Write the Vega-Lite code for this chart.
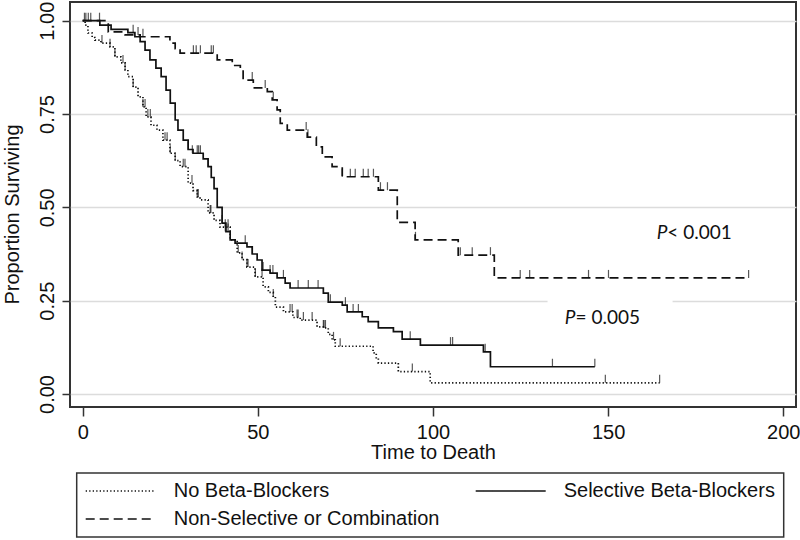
{
  "$schema": "https://vega.github.io/schema/vega-lite/v6.json",
  "width": 726,
  "height": 405,
  "autosize": {"type": "none"},
  "padding": {"left": 70, "top": 2, "right": 4, "bottom": 133},
  "background": "white",
  "config": {
    "font": "Liberation Sans",
    "view": {"stroke": "#333", "strokeWidth": 2},
    "legend": {"strokeWidth": 1.5}
  },
  "datasets": {
    "curves": [
      {"group": "Selective Beta-Blockers", "t": 0, "s": 1},
      {"group": "Selective Beta-Blockers", "t": 4.9, "s": 0.988},
      {"group": "Selective Beta-Blockers", "t": 8.1, "s": 0.977},
      {"group": "Selective Beta-Blockers", "t": 12.9, "s": 0.968},
      {"group": "Selective Beta-Blockers", "t": 14.9, "s": 0.957},
      {"group": "Selective Beta-Blockers", "t": 16.4, "s": 0.944},
      {"group": "Selective Beta-Blockers", "t": 17.8, "s": 0.921},
      {"group": "Selective Beta-Blockers", "t": 19.2, "s": 0.895},
      {"group": "Selective Beta-Blockers", "t": 20.9, "s": 0.873},
      {"group": "Selective Beta-Blockers", "t": 22.4, "s": 0.85},
      {"group": "Selective Beta-Blockers", "t": 23.8, "s": 0.814},
      {"group": "Selective Beta-Blockers", "t": 25.0, "s": 0.779},
      {"group": "Selective Beta-Blockers", "t": 26.4, "s": 0.734},
      {"group": "Selective Beta-Blockers", "t": 27.2, "s": 0.707},
      {"group": "Selective Beta-Blockers", "t": 28.7, "s": 0.68},
      {"group": "Selective Beta-Blockers", "t": 30.1, "s": 0.655},
      {"group": "Selective Beta-Blockers", "t": 31.5, "s": 0.645},
      {"group": "Selective Beta-Blockers", "t": 34.4, "s": 0.63},
      {"group": "Selective Beta-Blockers", "t": 35.8, "s": 0.609},
      {"group": "Selective Beta-Blockers", "t": 36.7, "s": 0.58},
      {"group": "Selective Beta-Blockers", "t": 37.5, "s": 0.55},
      {"group": "Selective Beta-Blockers", "t": 38.4, "s": 0.5},
      {"group": "Selective Beta-Blockers", "t": 39.8, "s": 0.458},
      {"group": "Selective Beta-Blockers", "t": 40.9, "s": 0.435},
      {"group": "Selective Beta-Blockers", "t": 42.1, "s": 0.413},
      {"group": "Selective Beta-Blockers", "t": 43.5, "s": 0.404},
      {"group": "Selective Beta-Blockers", "t": 46.9, "s": 0.394},
      {"group": "Selective Beta-Blockers", "t": 48.4, "s": 0.375},
      {"group": "Selective Beta-Blockers", "t": 49.8, "s": 0.359},
      {"group": "Selective Beta-Blockers", "t": 51.2, "s": 0.332},
      {"group": "Selective Beta-Blockers", "t": 53.5, "s": 0.324},
      {"group": "Selective Beta-Blockers", "t": 55.5, "s": 0.311},
      {"group": "Selective Beta-Blockers", "t": 57.8, "s": 0.297},
      {"group": "Selective Beta-Blockers", "t": 59.2, "s": 0.284},
      {"group": "Selective Beta-Blockers", "t": 68.7, "s": 0.27},
      {"group": "Selective Beta-Blockers", "t": 70.1, "s": 0.246},
      {"group": "Selective Beta-Blockers", "t": 74.1, "s": 0.238},
      {"group": "Selective Beta-Blockers", "t": 75.5, "s": 0.22},
      {"group": "Selective Beta-Blockers", "t": 79.8, "s": 0.207},
      {"group": "Selective Beta-Blockers", "t": 81.5, "s": 0.194},
      {"group": "Selective Beta-Blockers", "t": 84.4, "s": 0.177},
      {"group": "Selective Beta-Blockers", "t": 88.7, "s": 0.167},
      {"group": "Selective Beta-Blockers", "t": 91.2, "s": 0.147},
      {"group": "Selective Beta-Blockers", "t": 96.4, "s": 0.131},
      {"group": "Selective Beta-Blockers", "t": 114.4, "s": 0.113},
      {"group": "Selective Beta-Blockers", "t": 116.4, "s": 0.073},
      {"group": "Selective Beta-Blockers", "t": 146.2, "s": 0.073},
      {"group": "No Beta-Blockers", "t": 0, "s": 1},
      {"group": "No Beta-Blockers", "t": 0.7, "s": 0.988},
      {"group": "No Beta-Blockers", "t": 1.5, "s": 0.967},
      {"group": "No Beta-Blockers", "t": 2.7, "s": 0.955},
      {"group": "No Beta-Blockers", "t": 3.5, "s": 0.948},
      {"group": "No Beta-Blockers", "t": 5.2, "s": 0.94},
      {"group": "No Beta-Blockers", "t": 7.8, "s": 0.93},
      {"group": "No Beta-Blockers", "t": 9.2, "s": 0.903},
      {"group": "No Beta-Blockers", "t": 10.9, "s": 0.887},
      {"group": "No Beta-Blockers", "t": 12.1, "s": 0.868},
      {"group": "No Beta-Blockers", "t": 12.9, "s": 0.85},
      {"group": "No Beta-Blockers", "t": 14.4, "s": 0.822},
      {"group": "No Beta-Blockers", "t": 15.8, "s": 0.796},
      {"group": "No Beta-Blockers", "t": 17.2, "s": 0.769},
      {"group": "No Beta-Blockers", "t": 18.1, "s": 0.742},
      {"group": "No Beta-Blockers", "t": 19.5, "s": 0.72},
      {"group": "No Beta-Blockers", "t": 21.2, "s": 0.707},
      {"group": "No Beta-Blockers", "t": 22.9, "s": 0.68},
      {"group": "No Beta-Blockers", "t": 24.9, "s": 0.645},
      {"group": "No Beta-Blockers", "t": 26.4, "s": 0.625},
      {"group": "No Beta-Blockers", "t": 27.8, "s": 0.609},
      {"group": "No Beta-Blockers", "t": 30.1, "s": 0.565},
      {"group": "No Beta-Blockers", "t": 31.5, "s": 0.545},
      {"group": "No Beta-Blockers", "t": 32.7, "s": 0.528},
      {"group": "No Beta-Blockers", "t": 33.5, "s": 0.52},
      {"group": "No Beta-Blockers", "t": 35.8, "s": 0.485},
      {"group": "No Beta-Blockers", "t": 37.5, "s": 0.465},
      {"group": "No Beta-Blockers", "t": 39.2, "s": 0.447},
      {"group": "No Beta-Blockers", "t": 42.1, "s": 0.413},
      {"group": "No Beta-Blockers", "t": 44.1, "s": 0.378},
      {"group": "No Beta-Blockers", "t": 45.5, "s": 0.36},
      {"group": "No Beta-Blockers", "t": 46.9, "s": 0.34},
      {"group": "No Beta-Blockers", "t": 49.2, "s": 0.314},
      {"group": "No Beta-Blockers", "t": 51.5, "s": 0.287},
      {"group": "No Beta-Blockers", "t": 53.0, "s": 0.272},
      {"group": "No Beta-Blockers", "t": 54.4, "s": 0.26},
      {"group": "No Beta-Blockers", "t": 55.0, "s": 0.233},
      {"group": "No Beta-Blockers", "t": 57.3, "s": 0.22},
      {"group": "No Beta-Blockers", "t": 60.0, "s": 0.205},
      {"group": "No Beta-Blockers", "t": 62.1, "s": 0.198},
      {"group": "No Beta-Blockers", "t": 66.9, "s": 0.18},
      {"group": "No Beta-Blockers", "t": 68.7, "s": 0.177},
      {"group": "No Beta-Blockers", "t": 70.1, "s": 0.16},
      {"group": "No Beta-Blockers", "t": 71.2, "s": 0.145},
      {"group": "No Beta-Blockers", "t": 72.1, "s": 0.128},
      {"group": "No Beta-Blockers", "t": 82.9, "s": 0.11},
      {"group": "No Beta-Blockers", "t": 83.8, "s": 0.095},
      {"group": "No Beta-Blockers", "t": 84.4, "s": 0.083},
      {"group": "No Beta-Blockers", "t": 90.1, "s": 0.06},
      {"group": "No Beta-Blockers", "t": 99.2, "s": 0.03},
      {"group": "No Beta-Blockers", "t": 164.7, "s": 0.03},
      {"group": "Non-Selective or Combination", "t": 0, "s": 1},
      {"group": "Non-Selective or Combination", "t": 7.3, "s": 0.97},
      {"group": "Non-Selective or Combination", "t": 12.1, "s": 0.962},
      {"group": "Non-Selective or Combination", "t": 16.4, "s": 0.957},
      {"group": "Non-Selective or Combination", "t": 24.9, "s": 0.94},
      {"group": "Non-Selective or Combination", "t": 26.4, "s": 0.925},
      {"group": "Non-Selective or Combination", "t": 27.8, "s": 0.913},
      {"group": "Non-Selective or Combination", "t": 38.4, "s": 0.895},
      {"group": "Non-Selective or Combination", "t": 42.7, "s": 0.88},
      {"group": "Non-Selective or Combination", "t": 45.0, "s": 0.872},
      {"group": "Non-Selective or Combination", "t": 45.8, "s": 0.841},
      {"group": "Non-Selective or Combination", "t": 48.7, "s": 0.82},
      {"group": "Non-Selective or Combination", "t": 52.7, "s": 0.81},
      {"group": "Non-Selective or Combination", "t": 54.1, "s": 0.788},
      {"group": "Non-Selective or Combination", "t": 55.5, "s": 0.761},
      {"group": "Non-Selective or Combination", "t": 56.4, "s": 0.725},
      {"group": "Non-Selective or Combination", "t": 58.4, "s": 0.707},
      {"group": "Non-Selective or Combination", "t": 64.1, "s": 0.688},
      {"group": "Non-Selective or Combination", "t": 66.7, "s": 0.662},
      {"group": "Non-Selective or Combination", "t": 68.4, "s": 0.635},
      {"group": "Non-Selective or Combination", "t": 71.2, "s": 0.609},
      {"group": "Non-Selective or Combination", "t": 74.1, "s": 0.582},
      {"group": "Non-Selective or Combination", "t": 84.4, "s": 0.546},
      {"group": "Non-Selective or Combination", "t": 89.8, "s": 0.46},
      {"group": "Non-Selective or Combination", "t": 94.9, "s": 0.413},
      {"group": "Non-Selective or Combination", "t": 107.2, "s": 0.372},
      {"group": "Non-Selective or Combination", "t": 117.5, "s": 0.311},
      {"group": "Non-Selective or Combination", "t": 190.1, "s": 0.311}
    ],
    "censor": [
      {"group": "Selective Beta-Blockers", "t": 0.9, "s": 1},
      {"group": "Selective Beta-Blockers", "t": 1.6, "s": 1},
      {"group": "Selective Beta-Blockers", "t": 2.3, "s": 1},
      {"group": "Selective Beta-Blockers", "t": 4.8, "s": 1},
      {"group": "Selective Beta-Blockers", "t": 14.4, "s": 0.968},
      {"group": "Selective Beta-Blockers", "t": 30.1, "s": 0.655},
      {"group": "Selective Beta-Blockers", "t": 31.3, "s": 0.645},
      {"group": "Selective Beta-Blockers", "t": 32.7, "s": 0.645},
      {"group": "Selective Beta-Blockers", "t": 33.1, "s": 0.645},
      {"group": "Selective Beta-Blockers", "t": 33.6, "s": 0.645},
      {"group": "Selective Beta-Blockers", "t": 35.8, "s": 0.609},
      {"group": "Selective Beta-Blockers", "t": 39.8, "s": 0.458},
      {"group": "Selective Beta-Blockers", "t": 40.7, "s": 0.435},
      {"group": "Selective Beta-Blockers", "t": 41.5, "s": 0.435},
      {"group": "Selective Beta-Blockers", "t": 46.4, "s": 0.404},
      {"group": "Selective Beta-Blockers", "t": 48.4, "s": 0.375},
      {"group": "Selective Beta-Blockers", "t": 51.5, "s": 0.332},
      {"group": "Selective Beta-Blockers", "t": 53.5, "s": 0.324},
      {"group": "Selective Beta-Blockers", "t": 54.3, "s": 0.324},
      {"group": "Selective Beta-Blockers", "t": 57.3, "s": 0.311},
      {"group": "Selective Beta-Blockers", "t": 61.5, "s": 0.284},
      {"group": "Selective Beta-Blockers", "t": 64.4, "s": 0.284},
      {"group": "Selective Beta-Blockers", "t": 67.2, "s": 0.284},
      {"group": "Selective Beta-Blockers", "t": 70.7, "s": 0.246},
      {"group": "Selective Beta-Blockers", "t": 75.0, "s": 0.238},
      {"group": "Selective Beta-Blockers", "t": 77.2, "s": 0.22},
      {"group": "Selective Beta-Blockers", "t": 78.7, "s": 0.22},
      {"group": "Selective Beta-Blockers", "t": 93.5, "s": 0.147},
      {"group": "Selective Beta-Blockers", "t": 105.0, "s": 0.131},
      {"group": "Selective Beta-Blockers", "t": 105.6, "s": 0.131},
      {"group": "Selective Beta-Blockers", "t": 114.9, "s": 0.113},
      {"group": "Selective Beta-Blockers", "t": 134.1, "s": 0.073},
      {"group": "Selective Beta-Blockers", "t": 146.2, "s": 0.073},
      {"group": "No Beta-Blockers", "t": 5.5, "s": 0.94},
      {"group": "No Beta-Blockers", "t": 7.8, "s": 0.93},
      {"group": "No Beta-Blockers", "t": 9.2, "s": 0.903},
      {"group": "No Beta-Blockers", "t": 11.5, "s": 0.887},
      {"group": "No Beta-Blockers", "t": 12.1, "s": 0.868},
      {"group": "No Beta-Blockers", "t": 14.4, "s": 0.822},
      {"group": "No Beta-Blockers", "t": 17.2, "s": 0.769},
      {"group": "No Beta-Blockers", "t": 17.8, "s": 0.769},
      {"group": "No Beta-Blockers", "t": 18.6, "s": 0.742},
      {"group": "No Beta-Blockers", "t": 19.3, "s": 0.742},
      {"group": "No Beta-Blockers", "t": 23.5, "s": 0.68},
      {"group": "No Beta-Blockers", "t": 24.1, "s": 0.68},
      {"group": "No Beta-Blockers", "t": 25.0, "s": 0.645},
      {"group": "No Beta-Blockers", "t": 26.4, "s": 0.625},
      {"group": "No Beta-Blockers", "t": 28.7, "s": 0.609},
      {"group": "No Beta-Blockers", "t": 29.2, "s": 0.609},
      {"group": "No Beta-Blockers", "t": 31.2, "s": 0.565},
      {"group": "No Beta-Blockers", "t": 32.7, "s": 0.528},
      {"group": "No Beta-Blockers", "t": 33.0, "s": 0.528},
      {"group": "No Beta-Blockers", "t": 36.4, "s": 0.485},
      {"group": "No Beta-Blockers", "t": 36.6, "s": 0.485},
      {"group": "No Beta-Blockers", "t": 40.7, "s": 0.447},
      {"group": "No Beta-Blockers", "t": 41.5, "s": 0.447},
      {"group": "No Beta-Blockers", "t": 44.4, "s": 0.378},
      {"group": "No Beta-Blockers", "t": 45.5, "s": 0.36},
      {"group": "No Beta-Blockers", "t": 46.9, "s": 0.34},
      {"group": "No Beta-Blockers", "t": 47.2, "s": 0.34},
      {"group": "No Beta-Blockers", "t": 49.3, "s": 0.314},
      {"group": "No Beta-Blockers", "t": 51.2, "s": 0.314},
      {"group": "No Beta-Blockers", "t": 54.4, "s": 0.26},
      {"group": "No Beta-Blockers", "t": 59.2, "s": 0.22},
      {"group": "No Beta-Blockers", "t": 59.8, "s": 0.22},
      {"group": "No Beta-Blockers", "t": 61.2, "s": 0.205},
      {"group": "No Beta-Blockers", "t": 61.5, "s": 0.205},
      {"group": "No Beta-Blockers", "t": 63.0, "s": 0.198},
      {"group": "No Beta-Blockers", "t": 65.5, "s": 0.198},
      {"group": "No Beta-Blockers", "t": 68.7, "s": 0.177},
      {"group": "No Beta-Blockers", "t": 68.9, "s": 0.177},
      {"group": "No Beta-Blockers", "t": 69.3, "s": 0.177},
      {"group": "No Beta-Blockers", "t": 71.6, "s": 0.145},
      {"group": "No Beta-Blockers", "t": 73.5, "s": 0.128},
      {"group": "No Beta-Blockers", "t": 94.1, "s": 0.06},
      {"group": "No Beta-Blockers", "t": 149.2, "s": 0.03},
      {"group": "No Beta-Blockers", "t": 164.7, "s": 0.03},
      {"group": "Non-Selective or Combination", "t": 0.5, "s": 1},
      {"group": "Non-Selective or Combination", "t": 15.8, "s": 0.962},
      {"group": "Non-Selective or Combination", "t": 17.2, "s": 0.957},
      {"group": "Non-Selective or Combination", "t": 31.6, "s": 0.913},
      {"group": "Non-Selective or Combination", "t": 32.4, "s": 0.913},
      {"group": "Non-Selective or Combination", "t": 33.6, "s": 0.913},
      {"group": "Non-Selective or Combination", "t": 36.7, "s": 0.913},
      {"group": "Non-Selective or Combination", "t": 37.3, "s": 0.913},
      {"group": "Non-Selective or Combination", "t": 48.4, "s": 0.841},
      {"group": "Non-Selective or Combination", "t": 52.1, "s": 0.82},
      {"group": "Non-Selective or Combination", "t": 54.4, "s": 0.788},
      {"group": "Non-Selective or Combination", "t": 63.8, "s": 0.707},
      {"group": "Non-Selective or Combination", "t": 64.3, "s": 0.688},
      {"group": "Non-Selective or Combination", "t": 74.1, "s": 0.582},
      {"group": "Non-Selective or Combination", "t": 76.4, "s": 0.582},
      {"group": "Non-Selective or Combination", "t": 77.8, "s": 0.582},
      {"group": "Non-Selective or Combination", "t": 80.1, "s": 0.582},
      {"group": "Non-Selective or Combination", "t": 81.5, "s": 0.582},
      {"group": "Non-Selective or Combination", "t": 83.0, "s": 0.582},
      {"group": "Non-Selective or Combination", "t": 85.0, "s": 0.546},
      {"group": "Non-Selective or Combination", "t": 87.0, "s": 0.546},
      {"group": "Non-Selective or Combination", "t": 95.0, "s": 0.413},
      {"group": "Non-Selective or Combination", "t": 107.8, "s": 0.372},
      {"group": "Non-Selective or Combination", "t": 111.2, "s": 0.372},
      {"group": "Non-Selective or Combination", "t": 116.4, "s": 0.372},
      {"group": "Non-Selective or Combination", "t": 124.9, "s": 0.311},
      {"group": "Non-Selective or Combination", "t": 127.6, "s": 0.311},
      {"group": "Non-Selective or Combination", "t": 144.4, "s": 0.311},
      {"group": "Non-Selective or Combination", "t": 150.1, "s": 0.311},
      {"group": "Non-Selective or Combination", "t": 190.1, "s": 0.311}
    ],
    "notes": [
      {"t": 166.9, "s": 0.431, "p": "P", "rest": "< 0.001"},
      {"t": 140.7, "s": 0.2036, "p": "P", "rest": "= 0.005"}
    ],
    "mask": [
      {"t": 132.7, "t2": 168.4, "s": 0.292, "s2": 0.118}
    ]
  },
  "encoding": {
    "x": {
      "field": "t",
      "type": "quantitative",
      "title": "Time to Death",
      "scale": {"domain": [-3.625, 203.63], "nice": false, "zero": false},
      "axis": {
        "values": [0, 50, 100, 150, 200],
        "grid": false,
        "domain": false,
        "tickSize": 9,
        "tickWidth": 1.5,
        "tickColor": "#333",
        "labelFontSize": 20,
        "labelColor": "#111",
        "labelPadding": 6,
        "labelFlush": false,
        "titleFontSize": 20,
        "titleFontWeight": "normal",
        "titleColor": "#111",
        "titleBaseline": "alphabetic",
        "titleY": 51
      }
    },
    "y": {
      "field": "s",
      "type": "quantitative",
      "title": "Proportion Surviving",
      "scale": {"domain": [-0.0348, 1.0501], "nice": false, "zero": false},
      "axis": {
        "values": [0, 0.25, 0.5, 0.75, 1],
        "format": ".2f",
        "grid": true,
        "gridColor": "#dcdcdc",
        "gridWidth": 1.5,
        "domain": false,
        "tickSize": 8,
        "tickWidth": 1.5,
        "tickColor": "#333",
        "labelAngle": -90,
        "labelAlign": "center",
        "labelBaseline": "alphabetic",
        "labelPadding": 9,
        "labelFontSize": 20,
        "labelColor": "#111",
        "labelFlush": false,
        "titleFontSize": 20,
        "titleFontWeight": "normal",
        "titleColor": "#111",
        "titleBaseline": "alphabetic",
        "titleX": -52,
        "titleY": 212
      }
    }
  },
  "layer": [
    {
      "data": {"name": "mask"},
      "mark": {"type": "rect", "fill": "white", "stroke": null},
      "encoding": {
        "x2": {"field": "t2"},
        "y2": {"field": "s2"}
      }
    },
    {
      "data": {"name": "curves"},
      "mark": {"type": "line", "interpolate": "step-after", "strokeWidth": 1.7, "color": "#111"},
      "encoding": {
        "strokeDash": {
          "field": "group",
          "type": "nominal",
          "scale": {
            "domain": ["No Beta-Blockers", "Selective Beta-Blockers", "Non-Selective or Combination"],
            "range": [[1.3, 2.2], [1, 0], [9, 5]]
          },
          "legend": {
            "title": null,
            "orient": "none",
            "direction": "horizontal",
            "legendX": 6.7,
            "legendY": 471,
            "columns": 2,
            "columnPadding": 35,
            "rowPadding": 8,
            "padding": 8,
            "clipHeight": 20,
            "symbolType": "stroke",
            "symbolSize": 4900,
            "symbolStrokeWidth": 1.5,
            "symbolStrokeColor": "#111",
            "labelFontSize": 20,
            "labelColor": "#111",
            "labelOffset": 17,
            "labelLimit": 400,
            "strokeColor": "#333",
            "fillColor": "white"
          }
        }
      }
    },
    {
      "data": {"name": "censor"},
      "mark": {"type": "tick", "orient": "vertical", "size": 8, "thickness": 1.2, "yOffset": -4, "color": "#111"}
    },
    {
      "data": {"name": "notes"},
      "mark": {"type": "text", "font": "Lato", "fontSize": 19, "fontStyle": "italic", "align": "right", "baseline": "middle", "color": "#111"},
      "encoding": {"text": {"field": "p"}}
    },
    {
      "data": {"name": "notes"},
      "mark": {"type": "text", "font": "Lato", "fontSize": 19, "align": "left", "baseline": "middle", "color": "#111"},
      "encoding": {"text": {"field": "rest"}}
    }
  ]
}
